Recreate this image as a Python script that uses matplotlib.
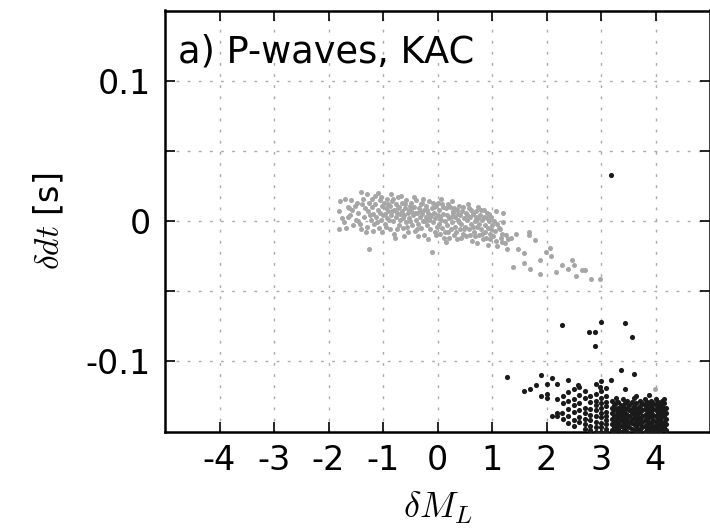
import matplotlib
matplotlib.use("Agg")
import matplotlib.pyplot as plt

# ---------------- data ----------------
# grey points: main cluster (dML, ddt)
gray_core = [
    (-1.81, 0.007), (-1.78, 0.014), (-1.70, 0.016), (-1.81, -0.006), (-1.67, -0.005),
    (-1.75, 0.002), (-1.62, 0.009), (-1.58, 0.015), (-1.60, 0.004), (-1.55, -0.003),
    (-1.52, 0.011), (-1.50, 0.001), (-1.65, 0.010),
    (-1.41, 0.021), (-1.30, 0.019), (-1.21, 0.016), (-1.10, 0.020), (-1.26, -0.020),
    (-1.45, 0.006), (-1.42, -0.002), (-1.38, 0.012), (-1.35, 0.003), (-1.33, 0.009),
    (-1.30, -0.004), (-1.28, 0.007), (-1.25, 0.013), (-1.22, 0.001), (-1.20, 0.010),
    (-1.18, 0.005), (-1.16, -0.002), (-1.14, 0.012), (-1.12, 0.003), (-1.10, 0.008),
    (-1.08, -0.005), (-1.06, 0.015), (-1.05, 0.006), (-1.03, 0.001), (-1.02, 0.011),
    (-1.48, 0.013), (-1.40, -0.006),
    (-1.00, 0.004), (-0.98, 0.013), (-0.97, -0.002), (-0.95, 0.009), (-0.93, 0.016),
    (-0.92, 0.002), (-0.90, 0.007), (-0.88, -0.006), (-0.87, 0.011), (-0.85, 0.004),
    (-0.84, 0.014), (-0.82, 0.000), (-0.80, 0.008), (-0.79, -0.009), (-0.77, 0.012),
    (-0.76, 0.003), (-0.74, 0.006), (-0.72, 0.017), (-0.71, -0.003), (-0.70, 0.010),
    (-0.68, 0.001), (-0.66, 0.007), (-0.65, 0.013), (-0.63, -0.005), (-0.62, 0.004),
    (-0.60, 0.009), (-0.58, -0.001), (-0.57, 0.015), (-0.55, 0.006), (-0.54, -0.008),
    (-0.52, 0.002), (-0.51, 0.011), (-0.95, -0.004), (-0.86, 0.019), (-0.78, -0.012),
    (-0.69, 0.005), (-0.61, -0.011),
    (-0.49, 0.007), (-0.48, 0.013), (-0.46, -0.003), (-0.45, 0.004), (-0.43, 0.010),
    (-0.42, -0.007), (-0.40, 0.001), (-0.39, 0.015), (-0.37, 0.006), (-0.36, -0.002),
    (-0.34, 0.009), (-0.33, 0.003), (-0.31, 0.012), (-0.30, -0.005), (-0.28, 0.005),
    (-0.27, 0.000), (-0.25, 0.008), (-0.24, -0.010), (-0.22, 0.003), (-0.21, 0.011),
    (-0.19, -0.003), (-0.18, 0.006), (-0.16, 0.001), (-0.15, 0.014), (-0.13, -0.006),
    (-0.12, 0.004), (-0.11, -0.022), (-0.10, 0.009), (-0.08, -0.001), (-0.07, 0.006),
    (-0.05, -0.008), (-0.04, 0.002), (-0.02, 0.011), (-0.01, -0.004), (-0.44, 0.017),
    (-0.35, -0.011), (-0.26, 0.016), (-0.17, -0.013), (-0.09, 0.013),
    (0.00, 0.004), (0.02, -0.002), (0.03, 0.008), (0.05, -0.009), (0.06, 0.001),
    (0.08, 0.012), (0.09, -0.005), (0.11, 0.005), (0.12, -0.012), (0.14, 0.000),
    (0.15, 0.009), (0.17, -0.003), (0.18, 0.004), (0.20, -0.008), (0.21, 0.002),
    (0.23, 0.010), (0.24, -0.006), (0.26, 0.014), (0.27, -0.001), (0.29, 0.006),
    (0.30, -0.010), (0.32, 0.003), (0.33, -0.004), (0.35, 0.008), (0.36, -0.013),
    (0.38, 0.001), (0.39, 0.011), (0.41, -0.006), (0.42, 0.004), (0.44, -0.002),
    (0.45, 0.007), (0.47, -0.009), (0.48, 0.002), (0.07, 0.016), (0.16, -0.015),
    (0.28, 0.007),
    (0.50, -0.004), (0.52, 0.006), (0.53, -0.011), (0.55, 0.001), (0.57, 0.009),
    (0.58, -0.006), (0.60, 0.003), (0.62, -0.002), (0.63, -0.014), (0.65, 0.005),
    (0.67, -0.008), (0.68, 0.000), (0.70, 0.007), (0.72, -0.004), (0.73, -0.016),
    (0.75, 0.002), (0.77, -0.010), (0.78, 0.004), (0.80, -0.006), (0.82, 0.001),
    (0.83, -0.013), (0.85, 0.008), (0.87, -0.003), (0.88, -0.008), (0.90, 0.002),
    (0.92, -0.005), (0.93, -0.017), (0.95, 0.000), (0.97, -0.009), (0.98, 0.003),
    (0.56, 0.012), (0.74, 0.010), (0.91, 0.006),
    (1.00, -0.003), (1.02, -0.011), (1.04, 0.000), (1.05, -0.007), (1.07, -0.014),
    (1.09, -0.002), (1.10, -0.018), (1.12, -0.005), (1.14, -0.006), (1.16, -0.012),
    (1.18, -0.009), (1.21, 0.006), (1.21, -0.001), (1.23, -0.016), (1.25, -0.010),
    (1.27, -0.020), (1.08, 0.007), (1.19, -0.015), (1.30, -0.013),
]

# grey points: additional points that thicken the main cluster
gray_extra = [
    (-1.72, -0.001), (-1.64, 0.003), (-1.57, 0.008), (-1.46, 0.000), (-1.36, 0.016),
    (-1.32, -0.008), (-1.24, 0.004), (-1.19, -0.007), (-1.15, 0.018), (-1.11, -0.001),
    (-1.04, 0.017), (-1.01, -0.008), (-0.96, 0.005), (-0.91, 0.012), (-0.89, 0.001),
    (-0.83, 0.007), (-0.81, 0.016), (-0.75, -0.006), (-0.73, 0.009), (-0.67, 0.018),
    (-0.64, 0.002), (-0.59, 0.012), (-0.56, -0.004), (-0.53, 0.008), (-0.50, 0.000),
    (-0.47, 0.010), (-0.41, 0.006), (-0.38, -0.006), (-0.32, 0.007), (-0.29, 0.013),
    (-0.23, 0.000), (-0.20, 0.008), (-0.14, 0.003), (-0.06, 0.010), (-0.03, -0.010),
    (0.01, 0.013), (0.04, 0.003), (0.10, 0.010), (0.13, -0.008), (0.19, 0.012),
    (0.22, -0.012), (0.25, 0.003), (0.31, 0.009), (0.34, -0.008), (0.37, 0.005),
    (0.40, -0.001), (0.43, -0.012), (0.46, 0.010), (0.49, -0.006), (0.54, 0.004),
    (0.59, -0.010), (0.61, 0.008), (0.66, -0.004), (0.69, -0.011), (0.71, 0.003),
    (0.76, -0.002), (0.79, 0.008), (0.81, -0.009), (0.86, 0.003), (0.89, -0.012),
    (0.94, 0.005), (0.96, -0.013), (0.99, -0.006),
]

# grey points: tail towards large dML
gray_tail = [
    (1.35, -0.012), (1.39, -0.033), (1.44, -0.009), (1.47, -0.020), (1.59, -0.023),
    (1.59, -0.030), (1.68, -0.008), (1.68, -0.010), (1.70, -0.034), (1.79, -0.0135),
    (1.88, -0.038), (1.88, -0.028), (1.99, -0.022), (2.07, -0.019), (2.09, -0.025),
    (2.18, -0.036), (2.29, -0.031), (2.40, -0.034), (2.47, -0.028), (2.51, -0.031),
    (2.55, -0.039), (2.66, -0.035), (2.71, -0.035), (2.82, -0.041), (2.99, -0.041),
    (3.99, -0.120),
]

# black points: scattered ones
black_scatter = [
    (3.19, 0.033),
    (2.29, -0.074), (2.78, -0.079), (2.89, -0.079), (3.00, -0.072), (2.89, -0.089),
    (3.44, -0.073), (3.57, -0.083),
    (1.28, -0.111), (1.59, -0.121), (1.70, -0.120), (1.80, -0.117), (1.90, -0.110),
    (1.90, -0.125), (2.00, -0.116), (2.00, -0.123), (2.00, -0.126), (2.10, -0.112),
    (2.20, -0.116), (2.20, -0.139), (2.29, -0.137), (2.40, -0.113), (2.58, -0.117),
    (3.37, -0.106), (3.61, -0.109), (3.19, -0.113), (2.99, -0.118), (3.44, -0.120),
    (3.65, -0.125), (3.88, -0.124), (4.16, -0.127), (2.10, -0.139),
]

# black points: quantised columns (dML value, list of ddt values)
black_col_dml = [2.2, 2.3, 2.4, 2.5, 2.6, 2.7, 2.8, 2.9, 3.0, 3.1]
black_col_ddt = [
    [-0.127, -0.137],
    [-0.125, -0.130, -0.141],
    [-0.122, -0.128, -0.134, -0.139, -0.144],
    [-0.120, -0.127, -0.131, -0.136, -0.142, -0.146],
    [-0.118, -0.124, -0.130, -0.135, -0.140, -0.143],
    [-0.121, -0.126, -0.133, -0.137, -0.141, -0.145, -0.148],
    [-0.125, -0.129, -0.134, -0.138, -0.142, -0.146, -0.149],
    [-0.116, -0.123, -0.128, -0.131, -0.135, -0.139, -0.143, -0.147, -0.150],
    [-0.114, -0.121, -0.126, -0.130, -0.133, -0.137, -0.140, -0.144, -0.147, -0.150],
    [-0.119, -0.125, -0.129, -0.132, -0.136, -0.139, -0.142, -0.145, -0.148, -0.150],
]

# black points: dense blob at large dML
blob_dml = [3.20, 3.24, 3.28, 3.32, 3.36, 3.40, 3.44, 3.48, 3.52, 3.56, 3.60, 3.64, 3.68,
            3.72, 3.76, 3.80, 3.84, 3.88, 3.92, 3.96, 4.00, 4.04, 4.08, 4.12, 4.16, 4.19]
blob_ddt = [
    [-0.128, -0.133, -0.137, -0.141, -0.145, -0.149],
    [-0.131, -0.135, -0.139, -0.143, -0.147, -0.150],
    [-0.126, -0.130, -0.134, -0.138, -0.142, -0.146, -0.149],
    [-0.129, -0.133, -0.136, -0.140, -0.144, -0.148],
    [-0.131, -0.135, -0.138, -0.142, -0.146, -0.150],
    [-0.127, -0.132, -0.136, -0.140, -0.143, -0.147, -0.150],
    [-0.130, -0.134, -0.137, -0.141, -0.145, -0.149],
    [-0.128, -0.133, -0.138, -0.142, -0.146, -0.150],
    [-0.131, -0.135, -0.139, -0.143, -0.147],
    [-0.129, -0.134, -0.137, -0.141, -0.144, -0.148],
    [-0.126, -0.132, -0.136, -0.140, -0.145, -0.149],
    [-0.130, -0.134, -0.138, -0.142, -0.146, -0.150],
    [-0.133, -0.137, -0.140, -0.144, -0.148],
    [-0.128, -0.132, -0.136, -0.141, -0.145, -0.149],
    [-0.130, -0.135, -0.139, -0.143, -0.147],
    [-0.127, -0.131, -0.134, -0.138, -0.142, -0.146, -0.150],
    [-0.129, -0.133, -0.137, -0.141, -0.145, -0.148],
    [-0.131, -0.135, -0.139, -0.143, -0.147, -0.150],
    [-0.128, -0.132, -0.136, -0.140, -0.144, -0.148],
    [-0.130, -0.134, -0.138, -0.142, -0.146, -0.149],
    [-0.127, -0.131, -0.135, -0.139, -0.143, -0.147, -0.150],
    [-0.129, -0.133, -0.137, -0.141, -0.145, -0.149],
    [-0.131, -0.134, -0.138, -0.142, -0.146, -0.150],
    [-0.128, -0.132, -0.136, -0.140, -0.144, -0.148],
    [-0.130, -0.134, -0.139, -0.143, -0.147],
    [-0.133, -0.137, -0.141, -0.145, -0.149],
]

x_ticks = [-4, -3, -2, -1, 0, 1, 2, 3, 4]
x_ticklabels = ["-4", "-3", "-2", "-1", "0", "1", "2", "3", "4"]
y_ticks = [-0.1, -0.05, 0.0, 0.05, 0.1]
y_ticklabels = ["-0.1", "", "0", "", "0.1"]
panel_title = "a) P-waves, KAC"

# ---------------- plotting ----------------
plt.rcParams["mathtext.fontset"] = "cm"
plt.rcParams["font.family"] = ["DejaVu Sans"]

W, H = 710, 528
fig = plt.figure(figsize=(W / 100, H / 100), dpi=100)
ax = fig.add_axes([165 / W, (H - 431.5) / H, (710 - 165) / W, 421 / H])

gray_all = gray_core + gray_extra + gray_tail
gx = [p[0] for p in gray_all]
gy = [p[1] for p in gray_all]
ax.plot(gx, gy, "o", color="#a6a6a6", ms=3.6, mew=0, zorder=3)

bx = [p[0] for p in black_scatter]
by = [p[1] for p in black_scatter]
for xv, ys in zip(black_col_dml, black_col_ddt):
    bx += [xv] * len(ys)
    by += ys
for xv, ys in zip(blob_dml, blob_ddt):
    bx += [xv] * len(ys)
    by += ys
ax.plot(bx, by, "o", color="#1a1a1a", ms=3.7, mew=0, zorder=4)

ax.set_xlim(-5, 5)
ax.set_ylim(-0.15, 0.15)
ax.set_xticks(x_ticks)
ax.set_xticklabels(x_ticklabels)
ax.set_yticks(y_ticks)
ax.set_yticklabels(y_ticklabels)

ax.grid(True, color="#aaaaaa", linestyle=(0, (2, 6)), linewidth=1.0)
ax.set_axisbelow(True)
for s in ax.spines.values():
    s.set_linewidth(1.8)
    s.set_color("black")
ax.tick_params(direction="in", length=7.5, width=1.2, top=True, right=True,
               labelsize=24, colors="black")
ax.tick_params(axis="x", pad=9)
ax.tick_params(axis="y", pad=10)

ax.text(0.023, 0.945, panel_title, transform=ax.transAxes, fontsize=26.5,
        ha="left", va="top")

ax.set_xlabel(r"$\delta M_L$", fontsize=26, labelpad=9)
ax.set_ylabel(r"$\delta dt$ [s]", fontsize=24, labelpad=14)

fig.savefig("out.png", dpi=100)
